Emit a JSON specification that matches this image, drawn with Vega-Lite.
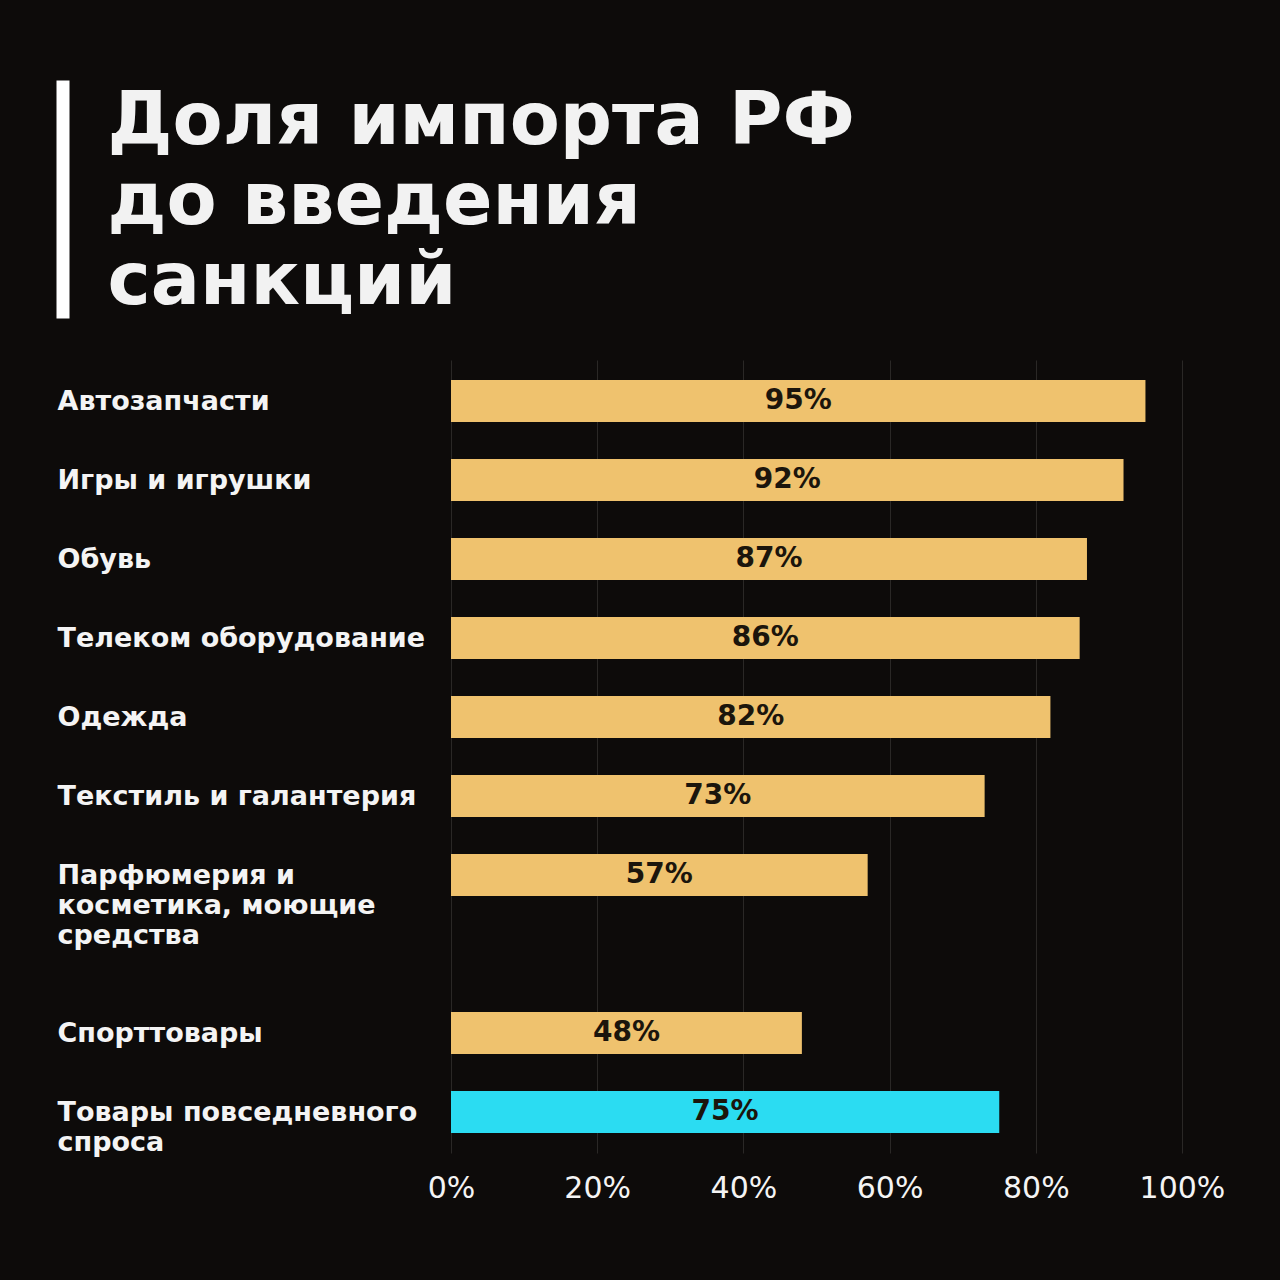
{
  "$schema": "https://vega.github.io/schema/vega-lite/v6.json",
  "description": "Доля импорта РФ до введения санкций",
  "background": "#0d0b0a",
  "padding": {"left": 57, "top": 80, "right": 70, "bottom": 80},
  "spacing": 42,
  "vconcat": [
    {
      "width": 731,
      "height": 238,
      "data": {"values": [{"k": "header"}]},
      "mark": {"type": "bar", "opacity": 0},
      "encoding": {
        "y": {
          "field": "k",
          "type": "nominal",
          "axis": {
            "orient": "left",
            "offset": 388.5,
            "domain": true,
            "domainColor": "#ffffff",
            "domainWidth": 13,
            "labels": false,
            "ticks": false,
            "grid": false,
            "title": ["Доля импорта РФ", "до введения", "санкций"],
            "titleAngle": 0,
            "titleAlign": "left",
            "titleBaseline": "alphabetic",
            "titleX": 44.5,
            "titleY": 63,
            "titleFont": "DejaVu Sans",
            "titleFontSize": 73,
            "titleFontWeight": 700,
            "titleLineHeight": 80,
            "titleColor": "#f2f2f2"
          }
        }
      }
    },
    {
      "width": 731,
      "height": 793,
      "data": {
        "values": [
          {"category": "Автозапчасти", "share": 0.95, "group": "sector"},
          {"category": "Игры и игрушки", "share": 0.92, "group": "sector"},
          {"category": "Обувь", "share": 0.87, "group": "sector"},
          {"category": "Телеком оборудование", "share": 0.86, "group": "sector"},
          {"category": "Одежда", "share": 0.82, "group": "sector"},
          {"category": "Текстиль и галантерия", "share": 0.73, "group": "sector"},
          {"category": "Парфюмерия и\nкосметика, моющие\nсредства", "share": 0.57, "group": "sector"},
          {"category": "Спорттовары", "share": 0.48, "group": "sector"},
          {"category": "Товары повседневного\nспроса", "share": 0.75, "group": "everyday"}
        ]
      },
      "encoding": {
        "y": {
          "field": "category",
          "type": "nominal",
          "scale": {
            "domain": [
              "Автозапчасти",
              "Игры и игрушки",
              "Обувь",
              "Телеком оборудование",
              "Одежда",
              "Текстиль и галантерия",
              "Парфюмерия и\nкосметика, моющие\nсредства",
              " ",
              "Спорттовары",
              "Товары повседневного\nспроса"
            ],
            "paddingInner": 0.468,
            "paddingOuter": 0.253
          },
          "axis": {
            "title": null,
            "domain": false,
            "ticks": false,
            "labelAlign": "left",
            "labelBaseline": "top",
            "labelOffset": -12,
            "labelPadding": 394,
            "labelLimit": 400,
            "labelExpr": "split(datum.value, '\\n')",
            "labelLineHeight": 30,
            "labelFont": "DejaVu Sans",
            "labelFontSize": 27,
            "labelFontWeight": 700,
            "labelColor": "#f4f4f4"
          }
        }
      },
      "layer": [
        {
          "mark": {"type": "bar"},
          "encoding": {
            "x": {
              "field": "share",
              "type": "quantitative",
              "scale": {"domain": [0, 1]},
              "axis": {
                "title": null,
                "format": ".0%",
                "values": [0, 0.2, 0.4, 0.6, 0.8, 1],
                "domain": false,
                "ticks": false,
                "grid": true,
                "gridColor": "#2a2826",
                "gridWidth": 1,
                "labelFlush": false,
                "labelPadding": 20,
                "labelFont": "DejaVu Sans",
                "labelFontSize": 30,
                "labelFontWeight": 400,
                "labelColor": "#f4f4f4"
              }
            },
            "color": {
              "field": "group",
              "type": "nominal",
              "scale": {"domain": ["sector", "everyday"], "range": ["#efc26e", "#2bdcf2"]},
              "legend": null
            }
          }
        },
        {
          "mark": {
            "type": "text",
            "font": "DejaVu Sans",
            "fontSize": 28,
            "fontWeight": 700,
            "color": "#1b150c",
            "baseline": "middle"
          },
          "encoding": {
            "x": {
              "field": "share",
              "type": "quantitative",
              "scale": {"domain": [0, 2]},
              "axis": null
            },
            "text": {"field": "share", "type": "quantitative", "format": ".0%"}
          }
        }
      ],
      "resolve": {"scale": {"x": "independent"}}
    }
  ],
  "config": {
    "view": {"stroke": null}
  }
}
